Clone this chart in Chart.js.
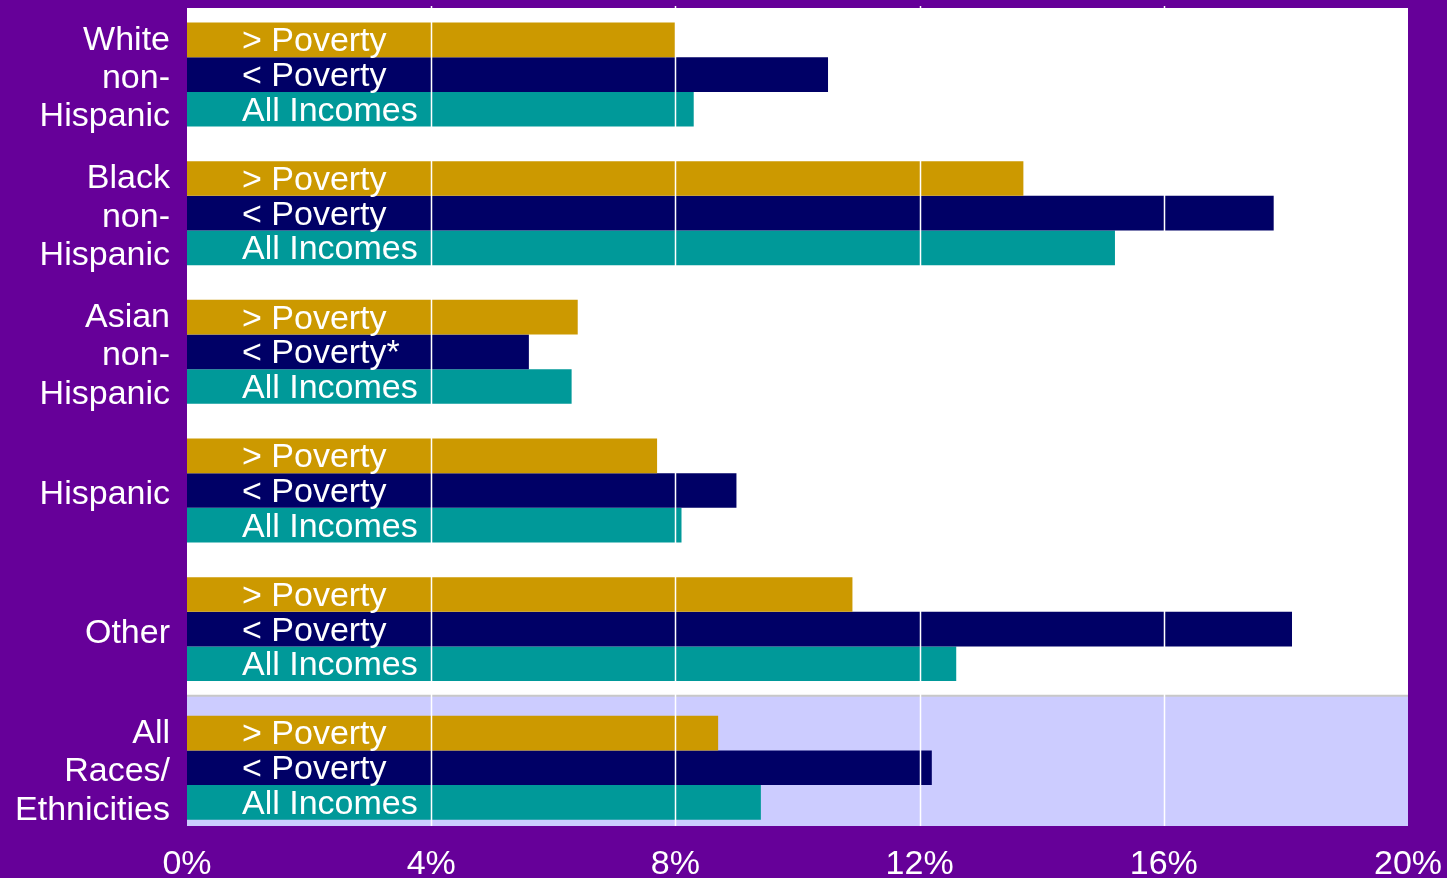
<!DOCTYPE html>
<html>
<head>
<meta charset="utf-8">
<script src="https://cdn.jsdelivr.net/npm/chart.js@4"></script>
<style>
  body { margin: 0; background: #660099; }
  #wrap { width: 1447px; height: 878px; }
</style>
</head>
<body>
<div id="wrap"><canvas id="myChart" width="1447" height="878"></canvas></div>
<script>
// groups (y axis), one line per array entry
const groups = [
    ['White', 'non-', 'Hispanic'],
    ['Black', 'non-', 'Hispanic'],
    ['Asian', 'non-', 'Hispanic'],
    ['Hispanic'],
    ['Other'],
    ['All', 'Races/', 'Ethnicities']
];

// values in percent
const abovePoverty = [8.0, 13.7, 6.4, 7.7, 10.9, 8.7];
const belowPoverty = [10.5, 17.8, 5.6, 9.0, 18.1, 12.2];
const allIncomes = [8.3, 15.2, 6.3, 8.1, 12.6, 9.4];

// text written inside the bars
const aboveLabels = ['> Poverty', '> Poverty', '> Poverty', '> Poverty', '> Poverty', '> Poverty'];
const belowLabels = ['< Poverty', '< Poverty', '< Poverty*', '< Poverty', '< Poverty', '< Poverty'];
const allLabels = ['All Incomes', 'All Incomes', 'All Incomes', 'All Incomes', 'All Incomes', 'All Incomes'];

const xTicks = [0, 4, 8, 12, 16, 20];

const FONT = '"Liberation Sans", Arial, sans-serif';

function toPoints(arr) {
    return arr.map((v, i) => ({ x: v, y: i }));
}

const ctx = document.getElementById('myChart').getContext('2d');

// nền tím, vùng vẽ trắng, dải cuối màu tím nhạt, lưới trắng trên cột, nhãn trong cột
const decor = {
    id: 'decor',
    beforeDraw(chart) {
        const c = chart.ctx;
        const a = chart.chartArea;
        const y = chart.scales.y;
        c.save();
        c.fillStyle = '#660099';
        c.fillRect(0, 0, chart.width, chart.height);
        c.fillStyle = '#ffffff';
        c.fillRect(a.left, a.top, a.right - a.left, a.bottom - a.top);
        const bandTop = y.getPixelForValue(groups.length - 1.52);
        c.fillStyle = '#ccccff';
        c.fillRect(a.left, bandTop, a.right - a.left, a.bottom - bandTop);
        c.strokeStyle = '#c8c8c8';
        c.lineWidth = 2;
        c.beginPath();
        c.moveTo(a.left, bandTop);
        c.lineTo(a.right, bandTop);
        c.stroke();
        c.restore();
    },
    afterDatasetsDraw(chart) {
        const c = chart.ctx;
        const a = chart.chartArea;
        const x = chart.scales.x;
        c.save();
        c.strokeStyle = '#ffffff';
        c.lineWidth = 1.5;
        xTicks.slice(1, -1).forEach(t => {
            const px = Math.round(x.getPixelForValue(t)) + 0.5;
            c.beginPath();
            c.moveTo(px, a.top - 2);
            c.lineTo(px, a.bottom);
            c.stroke();
        });
        // nhãn trong cột
        const texts = [aboveLabels, belowLabels, allLabels];
        c.fillStyle = '#ffffff';
        c.font = '34px ' + FONT;
        c.textAlign = 'left';
        c.textBaseline = 'middle';
        chart.data.datasets.forEach((ds, di) => {
            chart.getDatasetMeta(di).data.forEach((bar, i) => {
                c.fillText(texts[di][i], x.getPixelForValue(0) + 55, bar.y + 2);
            });
        });
        c.restore();
    }
};

const data = {
    datasets: [
        { label: '> Poverty', data: toPoints(abovePoverty), backgroundColor: '#cc9900' },
        { label: '< Poverty', data: toPoints(belowPoverty), backgroundColor: '#000066' },
        { label: 'All Incomes', data: toPoints(allIncomes), backgroundColor: '#009999' }
    ]
};

const config = {
    type: 'bar',
    data: data,
    options: {
        indexAxis: 'y',
        responsive: false,
        animation: false,
        categoryPercentage: 0.75,
        barPercentage: 1.0,
        layout: { padding: { top: 8, right: 39, left: 0, bottom: 0 } },
        plugins: { legend: { display: false }, tooltip: { enabled: false } },
        scales: {
            x: {
                type: 'linear',
                min: 0,
                max: 20,
                afterBuildTicks: s => { s.ticks = xTicks.map(v => ({ value: v })); },
                afterFit: s => { s.height = 52; s.paddingLeft = 0; s.paddingRight = 0; },
                grid: { display: false, drawTicks: false },
                border: { display: false },
                ticks: {
                    color: '#ffffff',
                    font: { size: 34, family: FONT },
                    padding: 18,
                    maxRotation: 0,
                    callback: v => v + '%'
                }
            },
            y: {
                type: 'linear',
                reverse: true,
                offset: false,
                min: -0.48,
                max: groups.length - 0.58,
                afterBuildTicks: s => { s.ticks = groups.map((g, i) => ({ value: i })); },
                afterFit: s => { s.width = 187; s.paddingTop = 0; s.paddingBottom = 0; },
                grid: { display: false, drawTicks: false },
                border: { display: false },
                ticks: {
                    color: '#ffffff',
                    font: { size: 34, family: FONT, lineHeight: 1.13 },
                    padding: 17,
                    labelOffset: 4,
                    callback: v => groups[v]
                }
            }
        }
    },
    plugins: [decor]
};

const myChart = new Chart(ctx, config);
</script>
</body>
</html>
